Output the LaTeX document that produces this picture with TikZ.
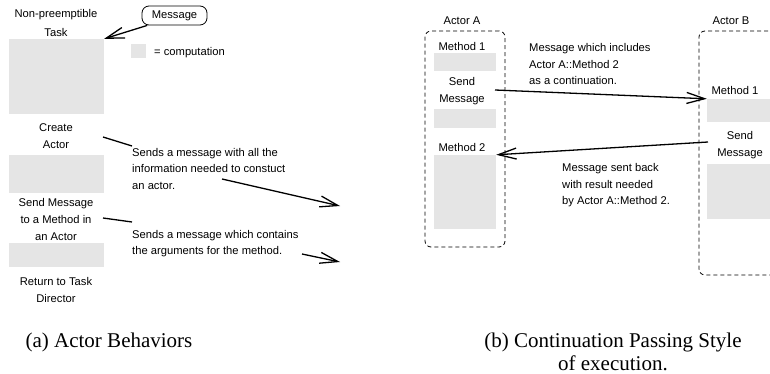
\documentclass[tikz,border=0pt]{standalone}
\usepackage{fontspec}
\setmainfont{Liberation Serif}
\setsansfont{Liberation Sans}
\usetikzlibrary{arrows.meta}

\tikzset{
  lbl/.style={font=\sffamily\fontsize{11.2}{17}\selectfont, inner sep=0pt, align=center},
  txt/.style={font=\sffamily\fontsize{11.2}{16.5}\selectfont, inner sep=0pt, align=left, anchor=west},
  captxt/.style={font=\fontsize{21}{22.5}\selectfont, inner sep=0pt, align=center, anchor=north},
  comp/.style={fill=black!10, inner sep=0pt},
  actor/.style={draw, dash pattern=on 4pt off 3pt, rounded corners=6pt, line width=0.8pt, inner sep=0pt},
  msgarr/.style={-{Straight Barb[length=18pt,width=11pt,line width=1.3pt]}, line width=1.3pt},
}

\begin{document}
\begin{tikzpicture}[x=1pt, y=-1pt]
\useasboundingbox (0,0) rectangle (770,374);
\clip (0,0) rectangle (770,374);
% (a) actor behaviors
\node[lbl] (task) at (56,22.5) {Non-preemptible\\[2pt]Task};
\node[comp, minimum width=95pt, minimum height=75pt] (c1) at (56.5,76.5) {};
\node[lbl, draw, rounded corners=7pt, line width=0.8pt, minimum width=65pt, minimum height=19pt] (msg) at (174.5,15.5) {Message};
\node[comp, minimum width=15pt, minimum height=14pt] (key) at (138.5,51) {};
\node[txt] (keytxt) at (154,53) {= computation};
\node[lbl] (create) at (56,136.5) {Create\\Actor};
\node[comp, minimum width=95pt, minimum height=38pt] (c2) at (56.5,174) {};
\node[lbl] (send) at (56,219) {Send Message\\to a Method in\\an Actor};
\node[comp, minimum width=95pt, minimum height=24pt] (c3) at (56.5,255) {};
\node[lbl] (ret) at (56,289.5) {Return to Task\\Director};
\node[txt] (info1) at (132,168.5) {Sends a message with all the\\information needed to constuct\\an actor.};
\node[txt] (info2) at (132,243.5) {Sends a message which contains\\the arguments for the method.};
\coordinate (p1) at (103,137);
\coordinate (q1) at (132,146);
\coordinate (p2) at (103,218);
\coordinate (q2) at (132,222);
\coordinate (r1) at (222,179);
\coordinate (t1) at (340,206);
\coordinate (r2) at (302,254);
\coordinate (t2) at (340,262);
% (b) continuation passing
\node[lbl] (actA) at (462,21) {Actor A};
\node[actor, minimum width=80pt, minimum height=216pt] (boxA) at (465,139) {};
\node[lbl] (a1lbl) at (462,46) {Method 1};
\node[comp, minimum width=62pt, minimum height=18pt] (a1) at (465,62) {};
\node[lbl] (a2lbl) at (462,91) {Send\\Message};
\node[comp, minimum width=62pt, minimum height=19pt] (a2) at (465,118.5) {};
\node[lbl] (a3lbl) at (462,147) {Method 2};
\node[comp, minimum width=62pt, minimum height=74pt] (m2) at (465,192) {};
\node[lbl] (actB) at (731,21) {Actor B};
\node[actor, minimum width=110pt, minimum height=244pt] (boxB) at (754,153) {};
\node[lbl] (b1lbl) at (735,90) {Method 1};
\node[comp, minimum width=64pt, minimum height=23pt] (b1) at (739,110.5) {};
\node[lbl] (b2lbl) at (740,145.5) {Send\\Message};
\node[comp, minimum width=64pt, minimum height=55pt] (b2) at (739,191.5) {};
\node[txt] (cont) at (529,64) {Message which includes\\Actor A::Method 2\\as a continuation.};
\node[txt] (back) at (562,185.5) {Message sent back\\with result needed\\by Actor A::Method 2.};
\coordinate (s1) at (495,90);
\coordinate (s2) at (708,142);
% Arrows
\draw[msgarr] (msg.200) -- (c1.north east);
\draw[line width=1.3pt] (p1) -- (q1);
\draw[line width=1.3pt] (p2) -- (q2);
\draw[msgarr] (r1) -- (t1);
\draw[msgarr] (r2) -- (t2);
\draw[msgarr] (s1) -- (b1.north west);
\draw[msgarr] (s2) -- (m2.north east);
% Captions
\node[captxt] (capa) at (109,333) {(a) Actor Behaviors};
\node[captxt] (capb) at (613,333) {(b) Continuation Passing Style\\of execution.};
\end{tikzpicture}
\end{document}
